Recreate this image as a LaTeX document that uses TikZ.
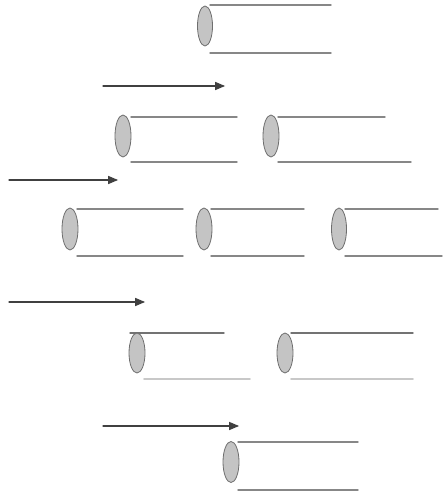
\documentclass[tikz,border=0pt]{standalone}
\usepackage{pgf,tikz}
\usetikzlibrary{arrows}
\usetikzlibrary{positioning}

\definecolor{wallgray}{RGB}{135,135,135}
\definecolor{palegray}{RGB}{200,200,200}
\definecolor{capfill}{RGB}{196,196,196}
\definecolor{capedge}{RGB}{110,110,110}

\begin{document}
\begin{tikzpicture}[line cap=round,line join=round,>=triangle 45,x=1pt,y=-1pt,
  wall/.style={color=wallgray,line width=1.4pt},
  palewall/.style={color=palegray,line width=1.6pt},
  tubecap/.style={fill=capfill,draw=capedge,line width=0.8pt},
  push/.style={->,color=black!75,line width=1.3pt}]
\useasboundingbox (0,0) rectangle (442,497);
% row 1
\draw[wall] (210,5) -- (331,5);
\draw[wall] (210,53) -- (331,53);
\draw[tubecap] (205,26) ellipse (7.5 and 20);
\coordinate (a1s) at (103,86);
\coordinate (a1e) at (225,86);
\draw[push] (a1s) -- (a1e);
% row 2
\draw[wall] (131,117) -- (237,117);
\draw[wall] (131,162) -- (237,162);
\draw[tubecap] (123,136) ellipse (8 and 21);
\draw[wall] (278,117) -- (385,117);
\draw[wall] (278,162) -- (411,162);
\draw[tubecap] (271,136) ellipse (8 and 21);
\coordinate (a2s) at (9,180);
\coordinate (a2e) at (118,180);
\draw[push] (a2s) -- (a2e);
% row 3
\draw[wall] (77,209) -- (183,209);
\draw[wall] (77,256) -- (183,256);
\draw[tubecap] (70,229) ellipse (8 and 21);
\draw[wall] (211,209) -- (304,209);
\draw[wall] (211,256) -- (304,256);
\draw[tubecap] (204,229) ellipse (8 and 21);
\draw[wall] (345,209) -- (438,209);
\draw[wall] (345,256) -- (442,256);
\draw[tubecap] (339,229) ellipse (7.5 and 21);
\coordinate (a3s) at (9,302);
\coordinate (a3e) at (145,302);
\draw[push] (a3s) -- (a3e);
% row 4
\draw[wall,color=black!55] (130,333) -- (224,333);
\draw[palewall] (144,379) -- (250,379);
\draw[tubecap] (137,353) ellipse (8 and 20);
\draw[wall,color=black!55] (291,333) -- (413,333);
\draw[palewall] (291,379) -- (413,379);
\draw[tubecap] (285,353) ellipse (8 and 20);
\coordinate (a4s) at (103,426);
\coordinate (a4e) at (239,426);
\draw[push] (a4s) -- (a4e);
% row 5
\draw[wall] (238,442) -- (358,442);
\draw[wall] (238,490) -- (358,490);
\draw[tubecap] (231,462) ellipse (8 and 20.5);
\end{tikzpicture}
\end{document}
